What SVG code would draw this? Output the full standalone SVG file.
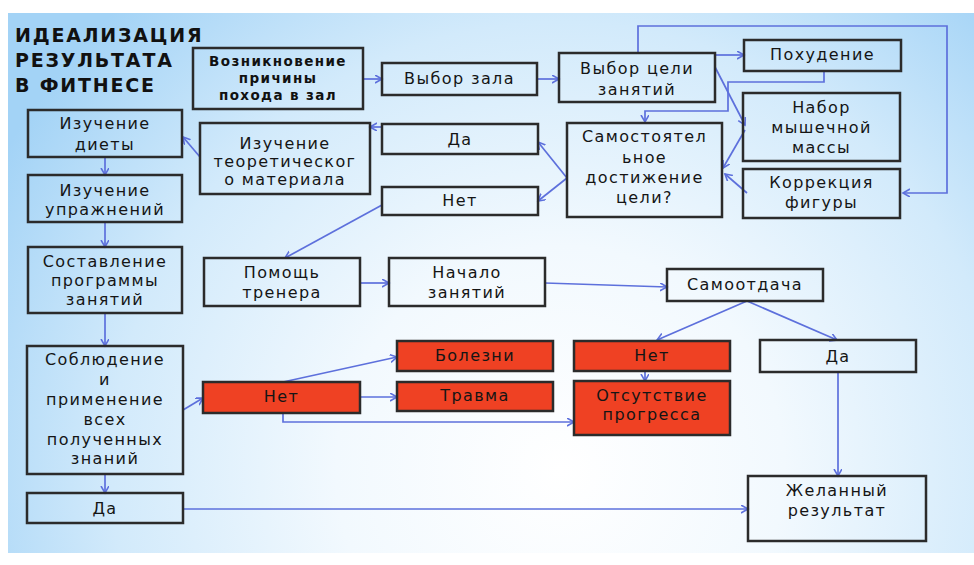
<svg xmlns="http://www.w3.org/2000/svg" width="974" height="565" viewBox="0 0 974 565">
<defs>
<radialGradient id="bg" cx="560" cy="470" r="640" gradientUnits="userSpaceOnUse">
<stop offset="0" stop-color="#ffffff"/>
<stop offset="0.35" stop-color="#f2f9fe"/>
<stop offset="0.7" stop-color="#d2eafb"/>
<stop offset="1" stop-color="#a3d3f6"/>
</radialGradient>
<marker id="ah" markerUnits="userSpaceOnUse" markerWidth="10" markerHeight="10" refX="7" refY="4" orient="auto">
<path d="M0,0 L7,4 L0,8" fill="none" stroke="#5d70dc" stroke-width="1.6"/>
</marker>
<style>
.box{fill:none;stroke:#2b2b2b;stroke-width:2.5}
.red{fill:#ef4123;stroke:#2b2b2b;stroke-width:2.5}
.t{font-family:"DejaVu Sans","Liberation Sans",sans-serif;font-size:16px;letter-spacing:1.4px;fill:#151515;text-anchor:middle}
.b{font-family:"DejaVu Sans","Liberation Sans",sans-serif;font-size:13.5px;font-weight:bold;letter-spacing:1.4px;fill:#111;text-anchor:middle}
.title{font-family:"DejaVu Sans","Liberation Sans",sans-serif;font-size:19px;font-weight:bold;letter-spacing:1.8px;fill:#111}
.c{fill:none;stroke:#5d70dc;stroke-width:1.7;marker-end:url(#ah)}
</style>
</defs>
<rect x="0" y="0" width="974" height="565" fill="#ffffff"/>
<rect x="8" y="13" width="966" height="540" fill="url(#bg)"/>

<g id="title">
<text class="title" x="15" y="42">ИДЕАЛИЗАЦИЯ</text>
<text class="title" x="15" y="67">РЕЗУЛЬТАТА</text>
<text class="title" x="15" y="92">В ФИТНЕСЕ</text>
</g>

<g id="connectors">
<path class="c" d="M363,79 L382,79"/>
<path class="c" d="M537,79 L559,79"/>
<path class="c" d="M638,53 V26 H947 V193 H903"/>
<path class="c" d="M715,55 H744"/>
<path class="c" d="M715,67 L745,125"/>
<path class="c" d="M745,130 L723,168"/>
<path class="c" d="M747,193 L725,174"/>
<path class="c" d="M824,71 V82 H728 V111 H645 V122"/>
<path class="c" d="M567,178 L538,142"/>
<path class="c" d="M567,178 L538,201"/>
<path class="c" d="M382,127 H370"/>
<path class="c" d="M200,157 L183,137"/>
<path class="c" d="M105,157 V175"/>
<path class="c" d="M105,222 V247"/>
<path class="c" d="M105,313 V346"/>
<path class="c" d="M105,474 V493"/>
<path class="c" d="M382,205 L285,258"/>
<path class="c" d="M360,283 H389"/>
<path class="c" d="M545,283 L667,287"/>
<path class="c" d="M747,301 L657,340"/>
<path class="c" d="M747,301 L837,340"/>
<path class="c" d="M645,371 V381"/>
<path class="c" d="M838,372 V476"/>
<path class="c" d="M183,509 H748"/>
<path class="c" d="M183,410 L203,398"/>
<path class="c" d="M283,382 L397,357"/>
<path class="c" d="M360,397 H397"/>
<path class="c" d="M283,413 V422 H574"/>
</g>

<g id="n_vozn"><rect class="box" x="193" y="48" width="170" height="61"/>
<text class="b" x="278" y="66">Возникновение</text><text class="b" x="278" y="83">причины</text><text class="b" x="278" y="100">похода в зал</text></g>

<g id="n_zal"><rect class="box" x="382" y="63" width="155" height="32"/>
<text class="t" x="459.5" y="84">Выбор зала</text></g>

<g id="n_goal"><rect class="box" x="559" y="53" width="156" height="49"/>
<text class="t" x="637" y="74">Выбор цели</text><text class="t" x="637" y="95">занятий</text></g>

<g id="n_pohud"><rect class="box" x="744" y="40" width="157" height="31"/>
<text class="t" x="822.5" y="60">Похудение</text></g>

<g id="n_nabor"><rect class="box" x="743" y="93" width="157" height="68"/>
<text class="t" x="821.5" y="113">Набор</text><text class="t" x="821.5" y="133">мышечной</text><text class="t" x="821.5" y="153">массы</text></g>

<g id="n_korr"><rect class="box" x="743" y="169" width="157" height="49"/>
<text class="t" x="821.5" y="188">Коррекция</text><text class="t" x="821.5" y="208">фигуры</text></g>

<g id="n_self"><rect class="box" x="567" y="123" width="155" height="94"/>
<text class="t" x="644.5" y="142">Самостоятел</text><text class="t" x="644.5" y="163">ьное</text><text class="t" x="644.5" y="183">достижение</text><text class="t" x="644.5" y="203">цели?</text></g>

<g id="n_da1"><rect class="box" x="382" y="124" width="156" height="30"/>
<text class="t" x="460" y="145">Да</text></g>

<g id="n_net1"><rect class="box" x="382" y="187" width="156" height="28"/>
<text class="t" x="460" y="206">Нет</text></g>

<g id="n_teor"><rect class="box" x="200" y="123" width="170" height="71"/>
<text class="t" x="285" y="149">Изучение</text><text class="t" x="285" y="167">теоретическог</text><text class="t" x="285" y="185">о материала</text></g>

<g id="n_diet"><rect class="box" x="28" y="110" width="154" height="47"/>
<text class="t" x="105" y="129">Изучение</text><text class="t" x="105" y="150">диеты</text></g>

<g id="n_upr"><rect class="box" x="28" y="175" width="154" height="47"/>
<text class="t" x="105" y="196">Изучение</text><text class="t" x="105" y="215">упражнений</text></g>

<g id="n_prog"><rect class="box" x="28" y="247" width="154" height="66"/>
<text class="t" x="105" y="267">Составление</text><text class="t" x="105" y="286">программы</text><text class="t" x="105" y="305">занятий</text></g>

<g id="n_sobl"><rect class="box" x="27" y="346" width="156" height="128"/>
<text class="t" x="105" y="365">Соблюдение</text><text class="t" x="105" y="385">и</text><text class="t" x="105" y="405">применение</text><text class="t" x="105" y="425">всех</text><text class="t" x="105" y="445">полученных</text><text class="t" x="105" y="464">знаний</text></g>

<g id="n_da2"><rect class="box" x="27" y="493" width="156" height="30"/>
<text class="t" x="105" y="514">Да</text></g>

<g id="n_pomosh"><rect class="box" x="204" y="258" width="156" height="48"/>
<text class="t" x="282" y="278">Помощь</text><text class="t" x="282" y="298">тренера</text></g>

<g id="n_nachalo"><rect class="box" x="389" y="258" width="156" height="48"/>
<text class="t" x="467" y="278">Начало</text><text class="t" x="467" y="298">занятий</text></g>

<g id="n_samo"><rect class="box" x="667" y="269" width="156" height="32"/>
<text class="t" x="745" y="290">Самоотдача</text></g>

<g id="n_net_red1"><rect class="red" x="203" y="382" width="157" height="31"/>
<text class="t" x="281.5" y="402">Нет</text></g>

<g id="n_bolezni"><rect class="red" x="397" y="341" width="156" height="30"/>
<text class="t" x="475" y="361">Болезни</text></g>

<g id="n_travma"><rect class="red" x="397" y="382" width="156" height="29"/>
<text class="t" x="475" y="401">Травма</text></g>

<g id="n_net_red2"><rect class="red" x="574" y="341" width="156" height="30"/>
<text class="t" x="652" y="361">Нет</text></g>

<g id="n_otsut"><rect class="red" x="574" y="381" width="156" height="54"/>
<text class="t" x="652" y="401">Отсутствие</text><text class="t" x="652" y="420">прогресса</text></g>

<g id="n_da3"><rect class="box" x="760" y="340" width="156" height="32"/>
<text class="t" x="838" y="362">Да</text></g>

<g id="n_zhel"><rect class="box" x="748" y="476" width="178" height="65"/>
<text class="t" x="837" y="496">Желанный</text><text class="t" x="837" y="516">результат</text></g>
</svg>
